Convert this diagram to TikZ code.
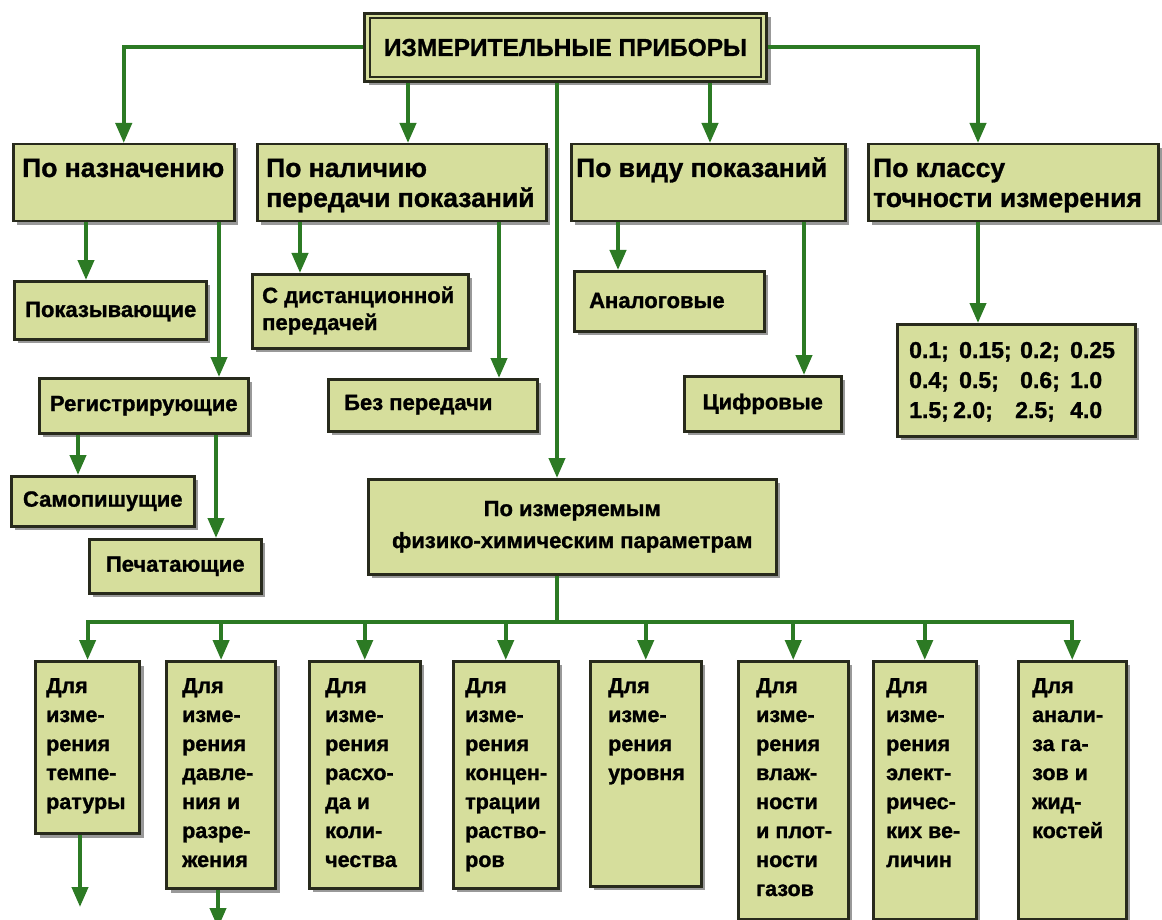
\documentclass[tikz,border=0pt]{standalone}
\usepackage{fontspec}
\setmainfont{Liberation Sans}[BoldFeatures={FakeBold=1.2}]
\usetikzlibrary{arrows.meta,shadows,calc}
\definecolor{boxfill}{RGB}{214,222,156}
\definecolor{boxline}{RGB}{40,42,28}
\definecolor{arrgreen}{RGB}{44,122,36}
\newcommand{\ml}[1]{\begin{tabular}[t]{@{}l@{}}#1\end{tabular}}
\newcommand{\bx}[7][]{\node[box,minimum width={(#5-#3)*1pt},minimum height={(#6-#4)*1pt},#1] (#2) at (#3,#4) {#7};}
\tikzset{
  box/.style={draw=boxline, line width=2.5pt, fill=boxfill, inner sep=0pt, anchor=north west,
    drop shadow={shadow xshift=4pt, shadow yshift=-4pt, fill=black, opacity=0.4}},
  line/.style={draw=arrgreen, line width=4pt},
  arr/.style={line, -{Triangle[length=20pt,width=16pt]}},
  ttop/.style={font=\bfseries\fontsize{24.5}{28}\selectfont},
  ttwo/.style={inner sep=0pt, anchor=base west, font=\bfseries\fontsize{26.5}{30}\selectfont},
  tthree/.style={inner sep=0pt, anchor=base west, font=\bfseries\fontsize{22}{27}\selectfont},
  cthree/.style={font=\bfseries\fontsize{22}{27}\selectfont},
  cmeas/.style={font=\bfseries\fontsize{22}{32}\selectfont, align=center},
  tfour/.style={inner sep=0pt, anchor=base west, font=\bfseries\fontsize{21.5}{29}\selectfont},
  tnum/.style={inner sep=0pt, anchor=base west, font=\bfseries\fontsize{23}{30}\selectfont},
}
\begin{document}
\begin{tikzpicture}[x=1pt,y=-1pt]
\useasboundingbox (0,0) rectangle (1162,920);
\clip (0,0) rectangle (1162,920);
\fill[white] (0,0) rectangle (1162,920);

% column helpers
\foreach \c in {78,86,216,219,300,408,499,557,618,710,804,978}{\coordinate (c\c) at (\c,0);}
\coordinate (bus) at (557,622);
\coordinate (e1) at (80,907);
\coordinate (e2) at (218,928);

% top box
\bx[line width=3pt]{top}{363}{12}{765}{80}{}
\draw[boxline, line width=1.6pt] ($(top.north west)+(7,6)$) rectangle ($(top.south east)+(-7,-6)$);
\node[ttop] (toptext) at (top.center) {ИЗМЕРИТЕЛЬНЫЕ ПРИБОРЫ};

% level 2
\bx{n1}{12}{143}{233}{220}{}
\bx{n2}{256}{143}{545}{220}{}
\bx{n3}{570}{143}{844}{220}{}
\bx{n4}{867}{143}{1157}{220}{}
\node[ttwo] (n1t) at (22,177) {По назначению};
\node[ttwo] (n2t) at (266,177) {\ml{По наличию\\передачи показаний}};
\node[ttwo] (n3t) at (576,177) {По виду показаний};
\node[ttwo] (n4t) at (873,177) {\ml{По классу\\точности измерения}};

% level 3
\bx{pok}{13}{280}{205}{338}{}
\node[tthree] (pokt) at (25,317) {Показывающие};
\bx[cthree]{reg}{38}{377}{247}{432}{Регистрирующие}
\bx[cthree]{sam}{10}{475}{193}{525}{Самопишущие}
\bx[cthree]{pech}{88}{538}{260}{592}{Печатающие}
\bx{dist}{251}{273}{467}{347}{}
\node[tthree] (distt) at (262,303) {\ml{С дистанционной\\передачей}};
\bx{bez}{327}{378}{536}{430}{}
\node[tthree] (bezt) at (344,410) {Без передачи};
\bx{analog}{573}{270}{763}{330}{}
\node[tthree] (analogt) at (589,308) {Аналоговые};
\bx[cthree]{cifr}{683}{375}{840}{430}{Цифровые}
\bx{nums}{896}{323}{1134}{435}{}
\node[tnum] (numst) at (909,358) {\begin{tabular}[t]{@{}p{50pt}@{}p{61pt}@{}p{50pt}@{}l@{}}
0.1; & 0.15; & 0.2; & 0.25\\
0.4; & 0.5; & 0.6; & 1.0\\
1.5; & \hspace*{-6pt}2.0; & \hspace*{-5pt}2.5; & 4.0
\end{tabular}};

% measured parameters
\bx[cmeas]{meas}{367}{478}{775}{573}{По измеряемым\\физико-химическим параметрам}

% bottom row
\bx[line width=3.2pt]{b1}{34}{660}{138}{832}{}
\bx[line width=3.2pt]{b2}{165}{660}{274}{887}{}
\bx{b3}{308}{660}{419}{887}{}
\bx{b4}{452}{660}{557}{887}{}
\bx{b5}{589}{660}{700}{885}{}
\bx{b6}{737}{660}{847}{918}{}
\bx{b7}{872}{660}{975}{918}{}
\bx{b8}{1017}{660}{1125}{918}{}
\node[tfour] (b1t) at (46,693) {\ml{Для\\изме-\\рения\\темпе-\\ратуры}};
\node[tfour] (b2t) at (182,693) {\ml{Для\\изме-\\рения\\давле-\\ния и\\разре-\\жения}};
\node[tfour] (b3t) at (325,693) {\ml{Для\\изме-\\рения\\расхо-\\да и\\коли-\\чества}};
\node[tfour] (b4t) at (465,693) {\ml{Для\\изме-\\рения\\концен-\\трации\\раство-\\ров}};
\node[tfour] (b5t) at (608,693) {\ml{Для\\изме-\\рения\\уровня}};
\node[tfour] (b6t) at (756,693) {\ml{Для\\изме-\\рения\\влаж-\\ности\\и плот-\\ности\\газов}};
\node[tfour] (b7t) at (886,693) {\ml{Для\\изме-\\рения\\элект-\\ричес-\\ких ве-\\личин}};
\node[tfour] (b8t) at (1032,693) {\ml{Для\\анали-\\за га-\\зов и\\жид-\\костей}};

% connectors
\draw[arr] (top.west) -| (n1.north);
\draw[arr] (top.south -| c408) -- (n2.north -| c408);
\draw[arr] (top.south -| c557) -- (meas.north -| c557);
\draw[arr] (top.south -| c710) -- (n3.north -| c710);
\draw[arr] (top.east) -| (n4.north -| c978);

\draw[arr] (n1.south -| c86) -- (pok.north -| c86);
\draw[arr] (n1.south -| c219) -- (reg.north -| c219);
\draw[arr] (reg.south -| c78) -- (sam.north -| c78);
\draw[arr] (reg.south -| c216) -- (pech.north -| c216);
\draw[arr] (n2.south -| c300) -- (dist.north -| c300);
\draw[arr] (n2.south -| c499) -- (bez.north -| c499);
\draw[arr] (n3.south -| c618) -- (analog.north -| c618);
\draw[arr] (n3.south -| c804) -- (cifr.north -| c804);
\draw[arr] (n4.south -| c978) -- (nums.north -| c978);

\draw[line] (meas.south -| c557) -- (bus);
\draw[line, line cap=rect] (b1.north |- bus) -- (b8.north |- bus);
\foreach \b in {b1,b2,b3,b4,b5,b6,b7,b8}{\draw[arr] (\b.north |- bus) -- (\b.north);}
\draw[arr] (b1.south -| e1) -- (e1);
\draw[arr] (b2.south -| e2) -- (e2);
\end{tikzpicture}
\end{document}
